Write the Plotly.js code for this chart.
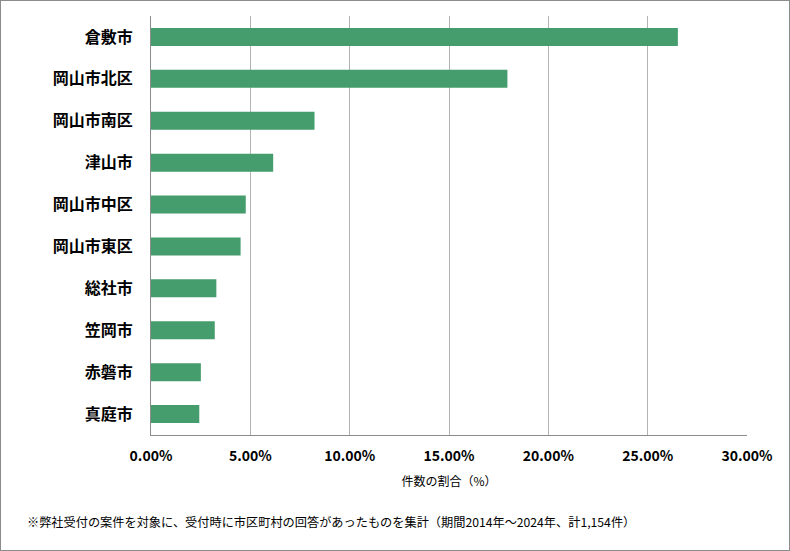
<!DOCTYPE html>
<html>
<head>
<meta charset="utf-8">
<script src="https://cdn.plot.ly/plotly-3.0.1.min.js"></script>
<style>
html,body{margin:0;padding:0;background:#fff;}
#wrap{position:relative;width:790px;height:551px;}
#chart{width:790px;height:551px;}
#frame{position:absolute;left:0;top:0;width:788px;height:549px;border:1px solid #8c8c8c;pointer-events:none;}
</style>
</head>
<body>
<div id="wrap"><div id="chart"></div><div id="frame"></div></div>
<script>
const categories = ["倉敷市","岡山市北区","岡山市南区","津山市","岡山市中区","岡山市東区","総社市","笠岡市","赤磐市","真庭市"];
const shares = [0.2652,0.1794,0.0823,0.0615,0.0477,0.0451,0.0329,0.0321,0.0251,0.0243];
const xTicks = [0,0.05,0.10,0.15,0.20,0.25,0.30];
const xTickLabels = ["0.00%","5.00%","10.00%","15.00%","20.00%","25.00%","30.00%"];
const xTitle = "件数の割合（%）";
const note = "※弊社受付の案件を対象に、受付時に市区町村の回答があったものを集計（期間2014年～2024年、計1,154件）";

const font = "'Noto Sans CJK JP', 'Noto Sans', sans-serif";

Plotly.newPlot("chart", [{
  type: "bar",
  orientation: "h",
  y: categories,
  x: shares,
  marker: {color: "#459c6c"},
  hoverinfo: "x+y"
}], {
  width: 790, height: 551,
  margin: {l: 151, r: 43, t: 16, b: 116},
  paper_bgcolor: "#fff", plot_bgcolor: "#fff",
  bargap: 0.57,
  showlegend: false,
  font: {family: font, color: "#000"},
  xaxis: {
    range: [0, 0.30],
    tickvals: xTicks, ticktext: xTickLabels,
    tickfont: {size: 14, family: font, weight: "bold"},
    showgrid: true, gridcolor: "#b3b3b3", gridwidth: 1,
    zeroline: false,
    showline: true, linecolor: "#8c8c8c", linewidth: 1,
    ticks: "", ticklabelstandoff: 8,
    title: {text: xTitle, font: {size: 12, family: font}, standoff: 13}
  },
  yaxis: {
    autorange: "reversed",
    type: "category",
    tickfont: {size: 16, family: font, weight: "bold"},
    showline: true, linecolor: "#8c8c8c", linewidth: 1,
    showgrid: false, zeroline: false,
    ticks: "", ticklabelstandoff: 14
  },
  annotations: [{
    text: note, xref: "paper", yref: "paper",
    x: (25-151)/596, y: -(522-435)/419, xanchor: "left", yanchor: "middle",
    showarrow: false, font: {size: 12.2, family: font, color: "#000"}
  }]
}, {displayModeBar: false, staticPlot: true});
</script>
</body>
</html>
